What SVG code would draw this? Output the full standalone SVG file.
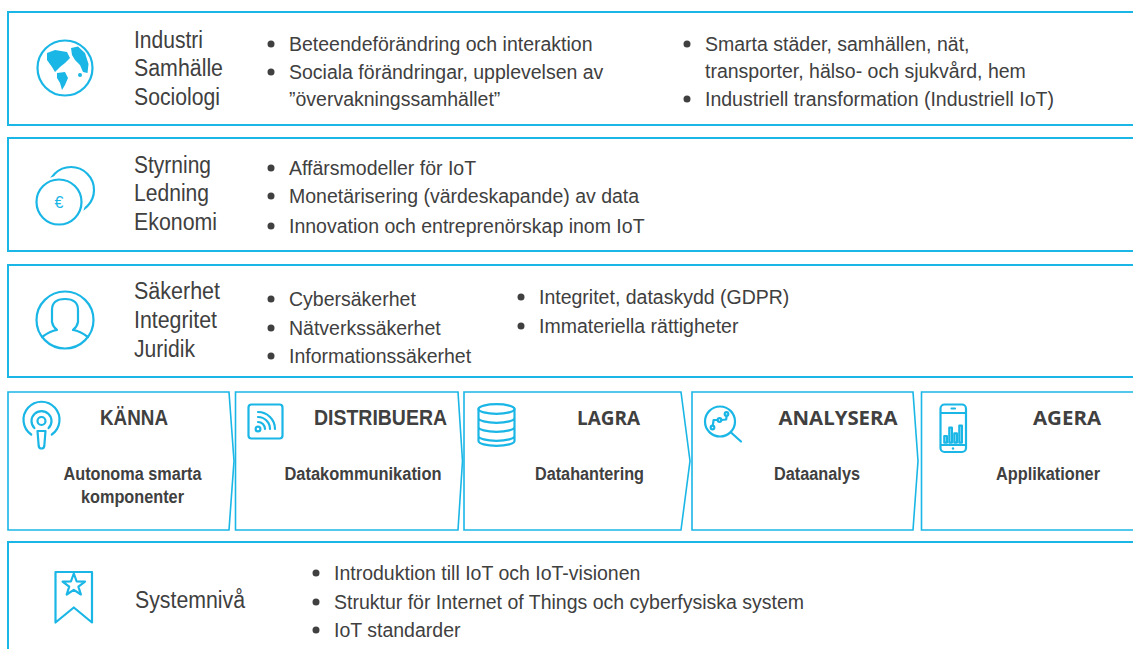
<svg xmlns="http://www.w3.org/2000/svg" width="1133" height="649" viewBox="0 0 1133 649">
<style>
.box{fill:#fff;stroke:#1ab6e6;stroke-width:2}
.chev{fill:#fff;stroke:#1ab6e6;stroke-width:1.6}
.ico{fill:none;stroke:#1ab6e6;stroke-width:2.2;stroke-linecap:round;stroke-linejoin:round}
.icof{fill:#1ab6e6;stroke:none}
.lbl{font-family:"Liberation Sans Narrow","Liberation Sans",Arial,sans-serif;font-size:23px;fill:#404040}
.txt{font-family:"Liberation Sans",Arial,sans-serif;font-size:19.5px;fill:#404040}
.dot{fill:#404040}
.ttl{font-family:"Liberation Sans Narrow","Liberation Sans",Arial,sans-serif;font-size:22px;font-weight:bold;fill:#404040;text-anchor:middle}
.ttl2{font-family:"Open Sans","Liberation Sans",sans-serif;font-size:19.5px;font-weight:bold;fill:#404040;text-anchor:middle}
.sub{font-family:"Liberation Sans Narrow","Liberation Sans",Arial,sans-serif;font-size:18px;font-weight:bold;fill:#404040;text-anchor:middle}
</style>

<g id="row-society">
<rect class="box" x="8" y="12" width="1140" height="113"/>
<circle class="ico" cx="65" cy="68" r="27.5" stroke-width="2.8"/>
<path class="icof" d="M47,53 L55,50 L67,52 L70,58 L65,63 L60,67 L55,72 L52,67 L47,60 Z"/>
<path class="icof" d="M57,73 L65,72 L68,78 L65,85 L62,90 L60,83 L57,78 Z"/>
<path class="icof" d="M71,48 L78,46.5 L85,53 L88.5,64 L87.5,73 L83,72 L80,65 L75,60 L72,55 Z"/>
<circle class="icof" cx="80" cy="75" r="2"/>
<text class="lbl" x="134" y="48" textLength="69" lengthAdjust="spacingAndGlyphs">Industri</text>
<text class="lbl" x="134" y="76" textLength="89" lengthAdjust="spacingAndGlyphs">Samhälle</text>
<text class="lbl" x="134" y="105" textLength="86" lengthAdjust="spacingAndGlyphs">Sociologi</text>
<circle class="dot" cx="271" cy="44" r="3.5"/>
<text class="txt" x="289" y="51">Beteendeförändring och interaktion</text>
<circle class="dot" cx="271" cy="72" r="3.5"/>
<text class="txt" x="289" y="79">Sociala förändringar, upplevelsen av</text>
<text class="txt" x="289" y="106">”övervakningssamhället”</text>
<circle class="dot" cx="687" cy="44" r="3.5"/>
<text class="txt" x="705" y="51">Smarta städer, samhällen, nät,</text>
<text class="txt" x="705" y="78">transporter, hälso- och sjukvård, hem</text>
<circle class="dot" cx="687" cy="99" r="3.5"/>
<text class="txt" x="705" y="106">Industriell transformation (Industriell IoT)</text>
</g>

<g id="row-economy">
<rect class="box" x="8" y="138" width="1140" height="113"/>
<circle class="ico" cx="71" cy="190" r="23"/>
<circle cx="59" cy="202" r="22.5" fill="#fff" stroke="#fff" stroke-width="7"/>
<circle class="ico" cx="59" cy="202" r="22.5"/>
<text x="59" y="208" font-family="Liberation Sans,Arial,sans-serif" font-size="16" fill="#1ab6e6" text-anchor="middle">€</text>
<text class="lbl" x="134" y="173" textLength="77" lengthAdjust="spacingAndGlyphs">Styrning</text>
<text class="lbl" x="134" y="201" textLength="75" lengthAdjust="spacingAndGlyphs">Ledning</text>
<text class="lbl" x="134" y="230" textLength="83" lengthAdjust="spacingAndGlyphs">Ekonomi</text>
<circle class="dot" cx="271" cy="168" r="3.5"/>
<text class="txt" x="289" y="175">Affärsmodeller för IoT</text>
<circle class="dot" cx="271" cy="196" r="3.5"/>
<text class="txt" x="289" y="203">Monetärisering (värdeskapande) av data</text>
<circle class="dot" cx="271" cy="226" r="3.5"/>
<text class="txt" x="289" y="233">Innovation och entreprenörskap inom IoT</text>
</g>

<g id="row-security">
<rect class="box" x="8" y="265" width="1140" height="112"/>
<circle class="ico" cx="65" cy="320" r="28.5"/>
<path class="ico" d="M42,337 Q50,331 57,330 Q53,327 52,322 L52,310 Q52,299 65,299 Q78,299 78,310 L78,322 Q77,327 73,330 Q80,331 88,337"/>
<text class="lbl" x="134" y="299" textLength="86" lengthAdjust="spacingAndGlyphs">Säkerhet</text>
<text class="lbl" x="134" y="328" textLength="83" lengthAdjust="spacingAndGlyphs">Integritet</text>
<text class="lbl" x="134" y="357" textLength="61" lengthAdjust="spacingAndGlyphs">Juridik</text>
<circle class="dot" cx="271" cy="299" r="3.5"/>
<text class="txt" x="289" y="306">Cybersäkerhet</text>
<circle class="dot" cx="271" cy="328" r="3.5"/>
<text class="txt" x="289" y="335">Nätverkssäkerhet</text>
<circle class="dot" cx="271" cy="356" r="3.5"/>
<text class="txt" x="289" y="363">Informationssäkerhet</text>
<circle class="dot" cx="521" cy="297" r="3.5"/>
<text class="txt" x="539" y="304">Integritet, dataskydd (GDPR)</text>
<circle class="dot" cx="521" cy="326" r="3.5"/>
<text class="txt" x="539" y="333">Immateriella rättigheter</text>
</g>

<g id="step-kanna">
<path class="chev" d="M8,392 L229,392 L234,461 L229,530 L8,530 Z"/>
<circle class="ico" cx="41.5" cy="421" r="4" stroke-width="2"/>
<path class="ico" d="M34.4,428.1 A10,10 0 1 1 48.6,428.1" stroke-width="2"/>
<path class="ico" d="M31.2,434.5 A18,18 0 1 1 51.8,434.5" stroke-width="2"/>
<path class="ico" d="M37.5,431 L45.5,431 L44.3,446 Q44,448.5 41.5,448.5 Q39,448.5 38.7,446 Z" stroke-width="2"/>
<text class="ttl" x="134" y="425" textLength="68" lengthAdjust="spacingAndGlyphs">KÄNNA</text>
<text class="sub" x="132.5" y="480" textLength="138" lengthAdjust="spacingAndGlyphs">Autonoma smarta</text>
<text class="sub" x="132.5" y="503" textLength="103" lengthAdjust="spacingAndGlyphs">komponenter</text>
</g>

<g id="step-distribuera">
<path class="chev" d="M235.5,392 L458,392 L462.5,461 L458,530 L235.5,530 Z"/>
<rect class="ico" x="248.5" y="404.5" width="34" height="34" rx="3" stroke-width="2"/>
<circle class="ico" cx="258" cy="429" r="2.4" stroke-width="1.8"/>
<path class="ico" d="M258,422 A7,7 0 0 1 265,429 M258,417 A12,12 0 0 1 270,429 M258,412 A17,17 0 0 1 275,429" stroke-width="2"/>
<text class="ttl" x="380.5" y="425" textLength="133" lengthAdjust="spacingAndGlyphs">DISTRIBUERA</text>
<text class="sub" x="363" y="480" textLength="157" lengthAdjust="spacingAndGlyphs">Datakommunikation</text>
</g>

<g id="step-lagra">
<path class="chev" d="M464,392 L681,392 L690,461 L681,530 L464,530 Z"/>
<ellipse class="ico" cx="496.5" cy="409" rx="18" ry="4.8" stroke-width="2"/>
<path class="ico" d="M478.5,409 L478.5,441 A18,4.8 0 0 0 514.5,441 L514.5,409 M478.5,418 A18,4.8 0 0 0 514.5,418 M478.5,427 A18,4.8 0 0 0 514.5,427 M478.5,436 A18,4.8 0 0 0 514.5,436" stroke-width="2"/>
<text class="ttl2" x="608.5" y="425" textLength="63" lengthAdjust="spacingAndGlyphs">LAGRA</text>
<text class="sub" x="589.5" y="480" textLength="109" lengthAdjust="spacingAndGlyphs">Datahantering</text>
</g>

<g id="step-analysera">
<path class="chev" d="M692,392 L913,392 L918,461 L913,530 L692,530 Z"/>
<circle class="ico" cx="720" cy="421.5" r="15" stroke-width="1.8"/>
<path class="ico" d="M731,432.5 L741,441.5" stroke-width="2"/>
<path class="ico" d="M712.8,425.6 L713.6,420 L717.6,420 M721.4,420 L726.2,419.5 L726.6,415.8" stroke-width="1.3"/>
<circle class="ico" cx="712.5" cy="427.5" r="1.8" stroke-width="1.3"/>
<circle class="ico" cx="719.5" cy="420" r="1.8" stroke-width="1.3"/>
<circle class="ico" cx="726.5" cy="414" r="1.8" stroke-width="1.3"/>
<text class="ttl2" x="838" y="425" textLength="119" lengthAdjust="spacingAndGlyphs">ANALYSERA</text>
<text class="sub" x="817" y="480" textLength="86" lengthAdjust="spacingAndGlyphs">Dataanalys</text>
</g>

<g id="step-agera">
<path class="chev" d="M921.5,392 L1145,392 L1145,530 L921.5,530 Z"/>
<rect class="ico" x="940.5" y="404.5" width="25.5" height="47.5" rx="4" stroke-width="2"/>
<path class="ico" d="M941,413 L965.5,413 M941,445 L965.5,445 M951.5,408.5 L955,408.5" stroke-width="1.6"/>
<circle class="icof" cx="953" cy="448.5" r="1.2"/>
<g class="ico" stroke-width="1.2">
<rect x="944.3" y="436" width="2.6" height="6.7"/>
<rect x="949.3" y="427.7" width="2.6" height="15"/>
<rect x="954.3" y="433.3" width="2.6" height="9.4"/>
<rect x="959.3" y="425.7" width="2.6" height="17"/>
</g>
<text class="ttl2" x="1067" y="425" textLength="68" lengthAdjust="spacingAndGlyphs">AGERA</text>
<text class="sub" x="1048" y="480" textLength="104" lengthAdjust="spacingAndGlyphs">Applikationer</text>
</g>

<g id="row-system">
<rect class="box" x="8" y="542" width="1140" height="130"/>
<path class="ico" d="M55.5,572 L92,572 L92,622.5 L73.8,607.5 L55.5,622.5 Z" stroke-width="2.2" stroke-linejoin="miter"/>
<path class="ico" d="M73.8,573.5 L76.7,581.5 L85,581.6 L78.4,586.6 L80.9,594.5 L73.8,589.8 L66.7,594.5 L69.2,586.6 L62.6,581.6 L70.9,581.5 Z" stroke-width="1.8"/>
<text class="lbl" x="135" y="608" textLength="110" lengthAdjust="spacingAndGlyphs">Systemnivå</text>
<circle class="dot" cx="316" cy="573" r="3.5"/>
<text class="txt" x="334" y="580">Introduktion till IoT och IoT-visionen</text>
<circle class="dot" cx="316" cy="602" r="3.5"/>
<text class="txt" x="334" y="609">Struktur för Internet of Things och cyberfysiska system</text>
<circle class="dot" cx="316" cy="630" r="3.5"/>
<text class="txt" x="334" y="637">IoT standarder</text>
</g>
</svg>
